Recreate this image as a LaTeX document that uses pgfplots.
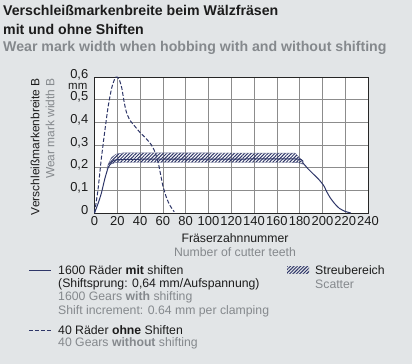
\documentclass[border=0pt]{standalone}
\usepackage{pgfplots}
\pgfplotsset{compat=1.18}
\usepackage{fontspec}
\setmainfont{Liberation Sans}
\usetikzlibrary{patterns.meta}
\definecolor{bg}{HTML}{E2E5E7}
\definecolor{navy}{HTML}{2E3668}
\definecolor{txtgray}{HTML}{85898D}
\definecolor{txtdark}{HTML}{1C1C1C}
\newcommand{\fs}[1]{\fontsize{#1}{#1}\selectfont}
\begin{document}
\begin{tikzpicture}
\fill[bg] (0,0) rectangle (412bp,-364bp);
% title
\node[anchor=west,inner sep=0,font=\fs{14.2}\bfseries,text=txtdark] at (3bp,-10bp) {Verschleißmarkenbreite beim Wälzfräsen};
\node[anchor=west,inner sep=0,font=\fs{14.2}\bfseries,text=txtdark] at (3bp,-29bp) {mit und ohne Shiften};
\node[anchor=west,inner sep=0,font=\fs{14.2}\bfseries,text=txtgray] at (3bp,-47.5bp) {Wear mark width when hobbing with and without shifting};
% y label
\node[anchor=east,rotate=90,inner sep=0,font=\fs{12},text=txtdark] at (35bp,-78bp) {Verschleißmarkenbreite B};
\node[anchor=east,rotate=90,inner sep=0,font=\fs{12},text=txtgray] at (50bp,-78bp) {Wear mark width B};
\node[anchor=east,inner sep=0,font=\fs{11.5},text=txtdark] at (87.5bp,-86.3bp) {mm};
% x label
\node[inner sep=0,font=\fs{12.3},text=txtdark] at (235bp,-238bp) {Fräserzahnnummer};
\node[inner sep=0,font=\fs{12.3},text=txtgray] at (235bp,-252bp) {Number of cutter teeth};
\begin{axis}[
  at={(94.5bp,-213bp)}, anchor=south west,
  scale only axis, width=273.5bp, height=136bp,
  xmin=0, xmax=240, ymin=0, ymax=0.6,
  xtick={0,20,...,240},
  ytick={0,0.1,0.2,0.3,0.4,0.5,0.6},
  grid=major,
  grid style={draw=black!45, line width=0.6pt},
  axis line style={draw=black!85, line width=0.8pt},
  major tick length=0pt,
  axis background/.style={fill=white},
  ticklabel style={font=\fs{13}, text=txtdark, inner sep=0pt},
  xticklabel style={yshift=-3.5bp},
  yticklabel style={yshift=2.5bp, xshift=-6bp},
  /pgf/number format/assume math mode=true,
  /pgf/number format/use comma,
  /pgf/number format/fixed,
  clip=false,
]
% scatter band
\addplot[draw=navy!70, line width=0.4pt, pattern={Lines[angle=45,distance=2.4pt,line width=1pt]}, pattern color=navy]
coordinates {(11,0.196) (14,0.215) (18,0.222) (25,0.223) (100,0.223) (172,0.223) (179,0.222) (183,0.215)
 (181,0.238) (176,0.264) (100,0.265) (25,0.265) (19,0.260) (15,0.245) (12,0.215) (11,0.196)} --cycle;
% 1600 gears with shifting
\addplot[navy, line width=1pt, smooth, tension=0.4] coordinates {
(0,0) (3,0.04) (6,0.087) (9,0.15) (12,0.2) (15,0.222) (20,0.235) (60,0.238) (120,0.238) (178,0.238)
(183,0.22) (187,0.197) (192,0.172) (197,0.147) (201,0.122) (204,0.092) (207,0.066) (211,0.04) (215,0.02) (220,0.007) (225,0)};
% 40 gears without shifting
\addplot[navy, line width=1pt, dashed, dash pattern=on 4pt off 2pt, smooth, tension=0.4] coordinates {
(0,0) (3,0.1) (6,0.24) (9,0.36) (12,0.47) (15,0.55) (18,0.595) (20,0.6) (22,0.585) (24,0.55) (26,0.49)
(28,0.445) (31,0.41) (35,0.385) (40,0.355) (45,0.33) (50,0.3) (53,0.27) (56,0.22) (58,0.17) (60,0.12)
(63,0.07) (66,0.035) (70,0.005)};
\end{axis}
% legend
\draw[navy, line width=1pt] (29bp,-270bp) -- (51bp,-270bp);
\draw[navy, line width=1pt, dash pattern=on 4pt off 2pt] (29bp,-330bp) -- (51bp,-330bp);
\fill[pattern={Lines[angle=45,distance=2.4pt,line width=1pt]}, pattern color=navy] (287bp,-266bp) rectangle (309bp,-273bp);
\begin{scope}[every node/.style={anchor=west,inner sep=0,font=\fs{12.3}}]
\node[text=txtdark] at (58bp,-270bp) {1600 Räder \textbf{mit} shiften};
\node[text=txtdark] at (58bp,-284bp) {(Shiftsprung: 0,64 mm/Aufspannung)};
\node[text=txtgray] at (58bp,-297.7bp) {1600 Gears \textbf{with} shifting};
\node[text=txtgray] at (58bp,-311.7bp) {Shift increment: 0.64 mm per clamping};
\node[text=txtdark] at (58bp,-330bp) {40 Räder \textbf{ohne} Shiften};
\node[text=txtgray] at (58bp,-343bp) {40 Gears \textbf{without} shifting};
\node[text=txtdark] at (315bp,-270bp) {Streubereich};
\node[text=txtgray] at (315bp,-284bp) {Scatter};
\end{scope}
\end{tikzpicture}
\end{document}
